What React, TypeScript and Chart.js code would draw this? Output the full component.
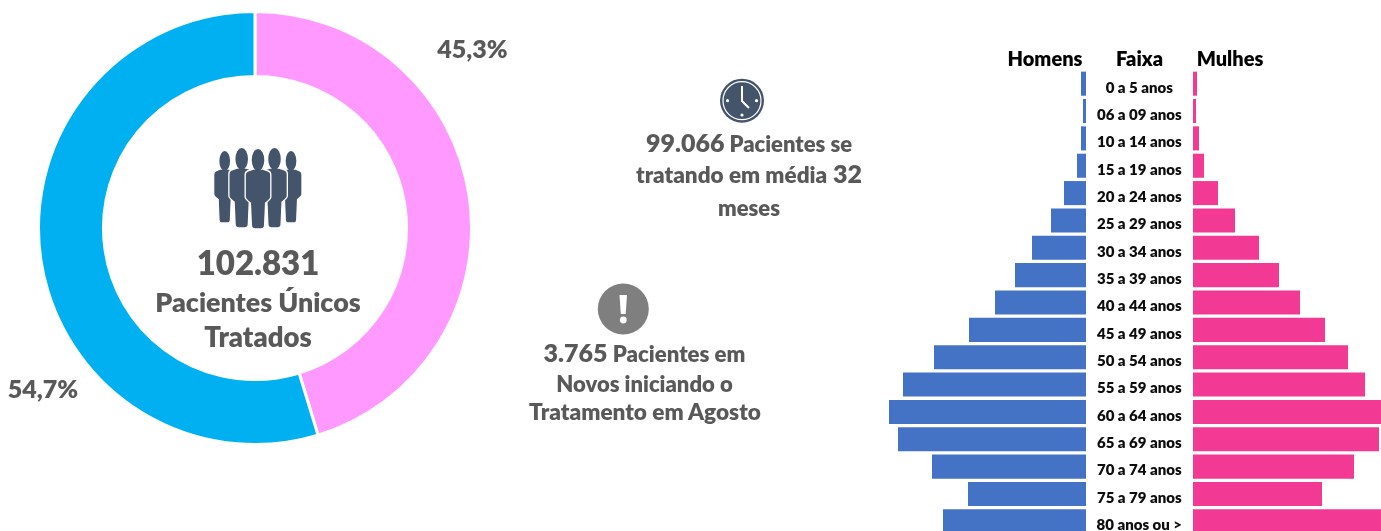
import React, { useEffect, useRef } from "react";
import { Chart, registerables } from "chart.js";

Chart.register(...registerables);

const shareLabels = ["Mulheres", "Homens"];
const shareValues = [45.3, 54.7];
const shareColors = ["#FF99FF", "#00B0F0"];
const ageLabels = [
  "0 a 5 anos", "06 a 09 anos", "10 a 14 anos", "15 a 19 anos", "20 a 24 anos", "25 a 29 anos",
  "30 a 34 anos", "35 a 39 anos", "40 a 44 anos", "45 a 49 anos", "50 a 54 anos", "55 a 59 anos",
  "60 a 64 anos", "65 a 69 anos", "70 a 74 anos", "75 a 79 anos", "80 anos ou >",
];
const menValues = [150, 90, 150, 270, 660, 1050, 1620, 2130, 2730, 3510, 4560, 5490, 5910, 5640, 4620, 3540, 4290];
const womenValues = [120, 90, 180, 330, 750, 1260, 1980, 2580, 3210, 3960, 4650, 5160, 5760, 5580, 4830, 3870, 5760];
const MEN_AXIS_MAX = 6180;
const WOMEN_AXIS_MAX = 5640;

const FONT = "Lato, 'Noto Sans', sans-serif";
const GREY = "#595959";

type Part = [string, number];
type TextLine = { x: number; y: number; parts: Part[]; color?: string };

const textLines: TextLine[] = [
  { x: 258, y: 262, parts: [["102.831", 33]] },
  { x: 258, y: 302, parts: [["Pacientes Únicos", 26.8]] },
  { x: 258, y: 337, parts: [["Tratados", 27.5]] },
  { x: 472.5, y: 48, parts: [["45,3%", 25]] },
  { x: 43, y: 388, parts: [["54,7%", 25]] },
  { x: 749, y: 142, parts: [["99.066", 25], [" Pacientes se", 22]] },
  { x: 749, y: 174, parts: [["tratando em média", 22.5], [" 32", 25]] },
  { x: 749, y: 208, parts: [["meses", 22]] },
  { x: 644.5, y: 353, parts: [["3.765", 25], [" Pacientes em", 22.2]] },
  { x: 644.5, y: 384, parts: [["Novos iniciando o", 22]] },
  { x: 645, y: 412, parts: [["Tratamento em Agosto", 22.6]] },
  { x: 1045, y: 58, parts: [["Homens", 20]], color: "#000000" },
  { x: 1139.5, y: 58, parts: [["Faixa", 20]], color: "#000000" },
  { x: 1230, y: 58, parts: [["Mulhes", 20]], color: "#000000" },
];

function Person({ x, top, scale, narrow }: { x: number; top: number; scale: number; narrow: number }) {
  return (
    <g transform={`translate(${x} ${top}) scale(${scale * narrow} ${scale})`} fill="#44546A">
      <path
        stroke="#fff"
        strokeWidth={1.4}
        d="M-5 20 L-11 22 Q-13.5 23 -13.5 26 L-13.5 48 Q-13.5 50 -8 54 L-7 76 Q-7 80 -3 80 L3 80 Q7 80 7 76 L8 54 Q13.5 50 13.5 48 L13.5 26 Q13.5 23 11 22 L5 20 Z"
      />
      <ellipse cx={0} cy={11} rx={6.6} ry={11} />
    </g>
  );
}

function Icons() {
  return (
    <svg width={1381} height={531} style={{ position: "absolute", left: 0, top: 0 }}>
      <Person x={224.7} top={151} scale={0.9} narrow={0.9} />
      <Person x={291} top={151} scale={0.9} narrow={0.9} />
      <Person x={241.7} top={148} scale={1} narrow={0.95} />
      <Person x={274.5} top={148} scale={1} narrow={0.95} />
      <Person x={258} top={149} scale={1} narrow={0.95} />
      <circle cx={742} cy={100.7} r={22} fill="#44546A" />
      <circle cx={742} cy={100.7} r={19} fill="#44546A" stroke="#fff" strokeWidth={1.2} />
      <path d="M742 86 L742 101 L749 108" fill="none" stroke="#fff" strokeWidth={2} />
      <circle cx={742} cy={115} r={1.6} fill="#fff" />
      <circle cx={727.5} cy={100.7} r={1.6} fill="#fff" />
      <circle cx={756.5} cy={100.7} r={1.6} fill="#fff" />
      <circle cx={623.3} cy={309} r={25.5} fill="#7F7F7F" />
      <path d="M619.5 295 L627 295 L625.7 314 L620.8 314 Z" fill="#fff" />
      <circle cx={623.3} cy={320} r={3.4} fill="#fff" />
    </svg>
  );
}

export default function App() {
  const donutRef = useRef<HTMLCanvasElement>(null);
  const menRef = useRef<HTMLCanvasElement>(null);
  const womenRef = useRef<HTMLCanvasElement>(null);
  const labelRef = useRef<HTMLCanvasElement>(null);

  useEffect(() => {
    document.body.style.margin = "0";
    const plugins = { legend: { display: false }, tooltip: { enabled: false }, title: { display: false } };
    const donut = new Chart(donutRef.current!, {
      type: "doughnut",
      data: {
        labels: shareLabels,
        datasets: [{ data: shareValues, backgroundColor: shareColors, borderColor: "#fff", borderWidth: 3 }],
      },
      options: { responsive: false, animation: false, cutout: "70%", plugins, layout: { padding: 0 } },
    });
    const men = new Chart(menRef.current!, {
      type: "bar",
      data: {
        labels: ageLabels,
        datasets: [{ data: menValues, backgroundColor: "#4472C4", barPercentage: 0.88, categoryPercentage: 1 }],
      },
      options: {
        indexAxis: "y",
        responsive: false,
        animation: false,
        plugins,
        layout: { padding: 0 },
        scales: {
          x: { display: false, reverse: true, min: 0, max: MEN_AXIS_MAX },
          y: { display: false },
        },
      },
    });
    const women = new Chart(womenRef.current!, {
      type: "bar",
      data: {
        labels: ageLabels,
        datasets: [{ data: womenValues, backgroundColor: "#F23A94", barPercentage: 0.88, categoryPercentage: 1 }],
      },
      options: {
        indexAxis: "y",
        responsive: false,
        animation: false,
        plugins,
        layout: { padding: 0 },
        scales: {
          x: { display: false, min: 0, max: WOMEN_AXIS_MAX },
          y: { display: false },
        },
      },
    });
    const labelAxis = new Chart(labelRef.current!, {
      type: "bar",
      data: { labels: ageLabels, datasets: [] },
      options: {
        indexAxis: "y",
        responsive: false,
        animation: false,
        plugins,
        layout: { padding: 0 },
        scales: {
          x: { display: false },
          y: {
            grid: { display: false, drawTicks: false },
            border: { display: false },
            afterFit: (s: any) => {
              s.width = 107;
              s.paddingTop = 0;
              s.paddingBottom = 0;
            },
            ticks: {
              autoSkip: false,
              crossAlign: "center",
              padding: 11,
              color: "#0D0D0D",
              font: { family: FONT, size: 15, weight: "800" },
            },
          },
        },
      },
    });
    return () => { donut.destroy(); men.destroy(); women.destroy(); labelAxis.destroy(); };
  }, []);

  return (
    <div style={{ position: "absolute", left: 0, top: 0, width: 1381, height: 531, overflow: "hidden", background: "#fff", fontFamily: FONT }}>
      <canvas ref={donutRef} width={436} height={436} style={{ position: "absolute", left: 37, top: 10 }} />
      <canvas ref={menRef} width={206} height={465} style={{ position: "absolute", left: 880, top: 70 }} />
      <canvas ref={womenRef} width={188} height={465} style={{ position: "absolute", left: 1193, top: 70 }} />
      <canvas ref={labelRef} width={107} height={465} style={{ position: "absolute", left: 1086, top: 74 }} />
      <Icons />
      {textLines.map((l, i) => (
        <div
          key={i}
          style={{
            position: "absolute", left: l.x, top: l.y, transform: "translate(-50%,-50%)",
            whiteSpace: "pre", fontWeight: 800, color: l.color ?? GREY, lineHeight: 1,
          }}
        >
          {l.parts.map(([t, s], j) => (
            <span key={j} style={{ fontSize: s }}>{t}</span>
          ))}
        </div>
      ))}
    </div>
  );
}
